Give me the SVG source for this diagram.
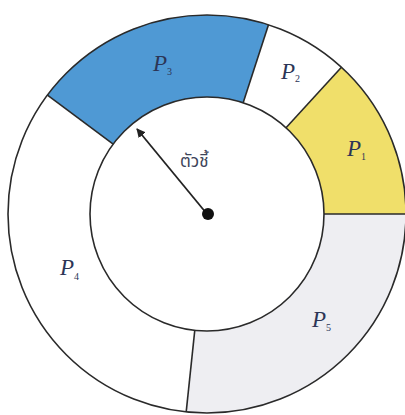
<svg xmlns="http://www.w3.org/2000/svg" width="405" height="415" viewBox="0 0 405 415">
<defs>
<style>
.seg{stroke:none}
.lbl{font-family:"Liberation Serif","Times New Roman",serif;font-style:italic;font-size:23px;fill:#2c3556}
.sub{font-family:"Liberation Serif","Times New Roman",serif;font-style:normal;font-size:10px;fill:#2c3556}
.edge{fill:none;stroke:#2a2a2a;stroke-width:1.6}
.thai{font-family:"Noto Sans Thai","Noto Sans","DejaVu Sans",sans-serif;font-size:17px;fill:#3d4459}
</style>
<marker id="ah" viewBox="0 0 10 10" refX="9" refY="5" markerWidth="9" markerHeight="9" orient="auto" markerUnits="userSpaceOnUse">
<path d="M0,0 L10,5 L0,10 z" fill="#222"/>
</marker>
</defs>
<rect width="405" height="415" fill="#fff"/>
<g id="P5">
<path class="seg" fill="#eeeef2" d="M406,214 A199,199 0 0 1 186.2,411.91 L194.77,330.36 A117,117 0 0 0 324,214 Z"/>
<text class="lbl" x="312" y="327">P<tspan class="sub" dy="4">5</tspan></text>
</g>
<g id="P4">
<path class="seg" fill="#ffffff" d="M186.2,411.91 A199,199 0 0 1 47.45,95.07 L113.19,144.08 A117,117 0 0 0 194.77,330.36 Z"/>
<text class="lbl" x="60" y="275">P<tspan class="sub" dy="5">4</tspan></text>
</g>
<g id="P3">
<path class="seg" fill="#4f99d4" d="M47.45,95.07 A199,199 0 0 1 268.49,24.74 L243.16,102.73 A117,117 0 0 0 113.19,144.08 Z"/>
<text class="lbl" x="153" y="71">P<tspan class="sub" dy="4">3</tspan></text>
</g>
<g id="P2">
<path class="seg" fill="#ffffff" d="M268.49,24.74 A199,199 0 0 1 341.44,67.28 L286.04,127.74 A117,117 0 0 0 243.16,102.73 Z"/>
<text class="lbl" x="281" y="79">P<tspan class="sub" dy="3">2</tspan></text>
</g>
<g id="P1">
<path class="seg" fill="#f0df6a" d="M341.44,67.28 A199,199 0 0 1 406,214 L324,214 A117,117 0 0 0 286.04,127.74 Z"/>
<text class="lbl" x="347" y="156">P<tspan class="sub" dy="4">1</tspan></text>
</g>
<g id="outline">
<circle class="edge" cx="207" cy="214" r="199"/>
<circle class="edge" cx="207" cy="214" r="117" fill="#fff"/>
</g>
<g id="connectors">
<line class="edge" x1="406" y1="214" x2="324" y2="214"/>
<line class="edge" x1="186.2" y1="411.91" x2="194.77" y2="330.36"/>
<line class="edge" x1="47.45" y1="95.07" x2="113.19" y2="144.08"/>
<line class="edge" x1="268.49" y1="24.74" x2="243.16" y2="102.73"/>
<line class="edge" x1="341.44" y1="67.28" x2="286.04" y2="127.74"/>
<line x1="207" y1="214" x2="137" y2="129" stroke="#222" stroke-width="1.8" marker-end="url(#ah)"/>
</g>
<g id="pointer">
<circle cx="208" cy="214" r="6" fill="#111"/>
<text class="thai" x="180" y="167">ตัวชี้</text>
</g>
</svg>
